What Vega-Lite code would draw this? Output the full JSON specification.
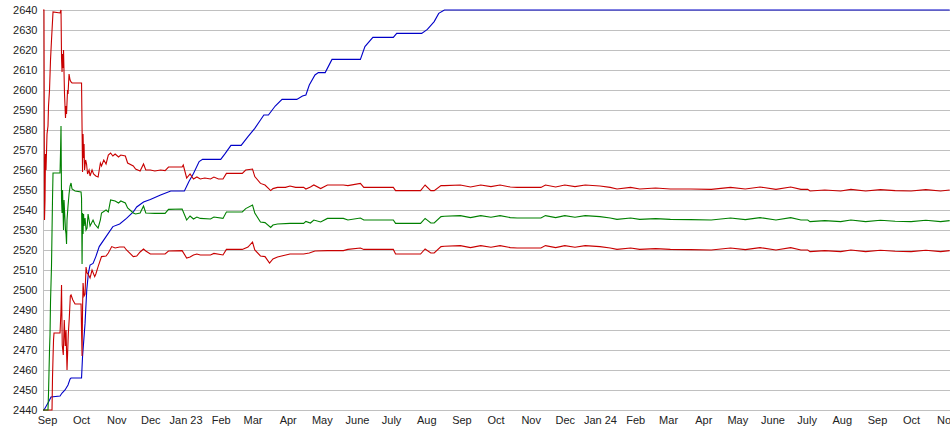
{
"$schema": "https://vega.github.io/schema/vega-lite/v6.json",
"width": 907, "height": 400,
"autosize": {"type": "none"},
"padding": {"left": 43, "top": 10, "right": 0, "bottom": 25},
"background": "white",
"config": {"view": {"stroke": null}, "font": "Liberation Sans"},
"data": {"values": [
{"t":"2022-08-28T12:00:00Z","s":"cum","v":2440},
{"t":"2022-08-29T08:00:00Z","s":"cum","v":2440},
{"t":"2022-09-02T08:00:00Z","s":"cum","v":2444},
{"t":"2022-09-04T13:00:00Z","s":"cum","v":2446.5},
{"t":"2022-09-12T11:00:00Z","s":"cum","v":2447},
{"t":"2022-09-14T06:00:00Z","s":"cum","v":2448.5},
{"t":"2022-09-16T21:00:00Z","s":"cum","v":2450},
{"t":"2022-09-19T12:00:00Z","s":"cum","v":2452.5},
{"t":"2022-09-21T07:00:00Z","s":"cum","v":2455.5},
{"t":"2022-09-22T04:00:00Z","s":"cum","v":2456},
{"t":"2022-10-01T10:00:00Z","s":"cum","v":2456},
{"t":"2022-10-02T07:00:00Z","s":"cum","v":2466.7},
{"t":"2022-10-04T12:00:00Z","s":"cum","v":2483.3},
{"t":"2022-10-06T00:00:00Z","s":"cum","v":2500},
{"t":"2022-10-07T10:00:00Z","s":"cum","v":2508.3},
{"t":"2022-10-08T22:00:00Z","s":"cum","v":2512.5},
{"t":"2022-10-11T13:00:00Z","s":"cum","v":2513.3},
{"t":"2022-10-14","s":"cum","v":2516.7},
{"t":"2022-10-17","s":"cum","v":2521.7},
{"t":"2022-10-23","s":"cum","v":2526.7},
{"t":"2022-10-29","s":"cum","v":2531.7},
{"t":"2022-11-04","s":"cum","v":2533},
{"t":"2022-11-10","s":"cum","v":2535.8},
{"t":"2022-11-16","s":"cum","v":2539},
{"t":"2022-11-19","s":"cum","v":2541.5},
{"t":"2022-11-25","s":"cum","v":2544},
{"t":"2022-12-01","s":"cum","v":2545.3},
{"t":"2022-12-10","s":"cum","v":2547.5},
{"t":"2022-12-19","s":"cum","v":2549.5},
{"t":"2022-12-31","s":"cum","v":2549.5},
{"t":"2023-01-04","s":"cum","v":2554.2},
{"t":"2023-01-08","s":"cum","v":2558.3},
{"t":"2023-01-13","s":"cum","v":2564.2},
{"t":"2023-01-16","s":"cum","v":2565.3},
{"t":"2023-02-01","s":"cum","v":2565.3},
{"t":"2023-02-05","s":"cum","v":2568.3},
{"t":"2023-02-10","s":"cum","v":2572.3},
{"t":"2023-02-19","s":"cum","v":2572.3},
{"t":"2023-02-25","s":"cum","v":2576.7},
{"t":"2023-03-03","s":"cum","v":2580.8},
{"t":"2023-03-08","s":"cum","v":2585},
{"t":"2023-03-11","s":"cum","v":2587.5},
{"t":"2023-03-15","s":"cum","v":2587.5},
{"t":"2023-03-21","s":"cum","v":2592},
{"t":"2023-03-27","s":"cum","v":2595.3},
{"t":"2023-04-09","s":"cum","v":2595.3},
{"t":"2023-04-14","s":"cum","v":2597},
{"t":"2023-04-17","s":"cum","v":2597.5},
{"t":"2023-04-20","s":"cum","v":2602.5},
{"t":"2023-04-25","s":"cum","v":2607.5},
{"t":"2023-04-28","s":"cum","v":2608.7},
{"t":"2023-05-04","s":"cum","v":2608.7},
{"t":"2023-05-10","s":"cum","v":2615.3},
{"t":"2023-06-04","s":"cum","v":2615.3},
{"t":"2023-06-08","s":"cum","v":2621.7},
{"t":"2023-06-15","s":"cum","v":2626.3},
{"t":"2023-07-03","s":"cum","v":2626.3},
{"t":"2023-07-06","s":"cum","v":2628.3},
{"t":"2023-07-28","s":"cum","v":2628.3},
{"t":"2023-08-02","s":"cum","v":2630.3},
{"t":"2023-08-08","s":"cum","v":2634.2},
{"t":"2023-08-12","s":"cum","v":2638.3},
{"t":"2023-08-17","s":"cum","v":2640},
{"t":"2024-11-04","s":"cum","v":2640},

{"t":"2022-08-28T12:00:00Z","s":"lo","v":2440},
{"t":"2022-09-05T10:00:00Z","s":"lo","v":2440},
{"t":"2022-09-05T20:00:00Z","s":"lo","v":2456},
{"t":"2022-09-06T07:00:00Z","s":"lo","v":2466},
{"t":"2022-09-06T18:00:00Z","s":"lo","v":2475},
{"t":"2022-09-07T04:00:00Z","s":"lo","v":2478.5},
{"t":"2022-09-12T11:00:00Z","s":"lo","v":2478.5},
{"t":"2022-09-13T08:00:00Z","s":"lo","v":2490},
{"t":"2022-09-13T19:00:00Z","s":"lo","v":2502.5},
{"t":"2022-09-14T10:00:00Z","s":"lo","v":2472.5},
{"t":"2022-09-15T08:00:00Z","s":"lo","v":2467.5},
{"t":"2022-09-16T05:00:00Z","s":"lo","v":2485},
{"t":"2022-09-17T02:00:00Z","s":"lo","v":2472},
{"t":"2022-09-17T18:00:00Z","s":"lo","v":2480},
{"t":"2022-09-18T15:00:00Z","s":"lo","v":2460},
{"t":"2022-09-19T18:00:00Z","s":"lo","v":2478},
{"t":"2022-09-20T15:00:00Z","s":"lo","v":2486},
{"t":"2022-09-21T13:00:00Z","s":"lo","v":2497},
{"t":"2022-09-22T04:00:00Z","s":"lo","v":2497.5},
{"t":"2022-09-23T18:00:00Z","s":"lo","v":2495},
{"t":"2022-09-25T17:00:00Z","s":"lo","v":2493},
{"t":"2022-10-01T00:00:00Z","s":"lo","v":2493},
{"t":"2022-10-01T10:00:00Z","s":"lo","v":2480},
{"t":"2022-10-01T21:00:00Z","s":"lo","v":2467},
{"t":"2022-10-02T07:00:00Z","s":"lo","v":2490},
{"t":"2022-10-02T18:00:00Z","s":"lo","v":2503.5},
{"t":"2022-10-03T15:00:00Z","s":"lo","v":2497},
{"t":"2022-10-04T12:00:00Z","s":"lo","v":2498},
{"t":"2022-10-05T09:00:00Z","s":"lo","v":2511.5},
{"t":"2022-10-06T06:00:00Z","s":"lo","v":2508.5},
{"t":"2022-10-07T04:00:00Z","s":"lo","v":2508},
{"t":"2022-10-08T22:00:00Z","s":"lo","v":2506},
{"t":"2022-10-10T16:00:00Z","s":"lo","v":2510},
{"t":"2022-10-13","s":"lo","v":2506.7},
{"t":"2022-10-14","s":"lo","v":2508},
{"t":"2022-10-16","s":"lo","v":2511.7},
{"t":"2022-10-19","s":"lo","v":2516.7},
{"t":"2022-10-23","s":"lo","v":2517},
{"t":"2022-10-25","s":"lo","v":2518.5},
{"t":"2022-10-28","s":"lo","v":2521.7},
{"t":"2022-10-31","s":"lo","v":2521},
{"t":"2022-11-04","s":"lo","v":2521.5},
{"t":"2022-11-08","s":"lo","v":2521.5},
{"t":"2022-11-10","s":"lo","v":2520},
{"t":"2022-11-16","s":"lo","v":2516.7},
{"t":"2022-11-19","s":"lo","v":2517},
{"t":"2022-11-22","s":"lo","v":2519},
{"t":"2022-11-25","s":"lo","v":2520.5},
{"t":"2022-11-27","s":"lo","v":2519.5},
{"t":"2022-12-01","s":"lo","v":2518},
{"t":"2022-12-14","s":"lo","v":2518},
{"t":"2022-12-17","s":"lo","v":2519.5},
{"t":"2022-12-29","s":"lo","v":2519.7},
{"t":"2023-01-02","s":"lo","v":2516},
{"t":"2023-01-05","s":"lo","v":2516.5},
{"t":"2023-01-08","s":"lo","v":2517.5},
{"t":"2023-01-11","s":"lo","v":2518},
{"t":"2023-01-14","s":"lo","v":2517.5},
{"t":"2023-01-23","s":"lo","v":2517.5},
{"t":"2023-01-26","s":"lo","v":2518.3},
{"t":"2023-02-03","s":"lo","v":2517.5},
{"t":"2023-02-06","s":"lo","v":2520.3},
{"t":"2023-02-20","s":"lo","v":2520.3},
{"t":"2023-02-25","s":"lo","v":2521.5},
{"t":"2023-03-01","s":"lo","v":2524},
{"t":"2023-03-03","s":"lo","v":2520},
{"t":"2023-03-08","s":"lo","v":2517},
{"t":"2023-03-12","s":"lo","v":2516.7},
{"t":"2023-03-16","s":"lo","v":2513.5},
{"t":"2023-03-19","s":"lo","v":2515.5},
{"t":"2023-03-23","s":"lo","v":2516.5},
{"t":"2023-04-03","s":"lo","v":2518},
{"t":"2023-04-15","s":"lo","v":2518},
{"t":"2023-04-20","s":"lo","v":2518.5},
{"t":"2023-04-25","s":"lo","v":2519.5},
{"t":"2023-05-06","s":"lo","v":2519.7},
{"t":"2023-05-20","s":"lo","v":2519.7},
{"t":"2023-05-24","s":"lo","v":2520.3},
{"t":"2023-06-04","s":"lo","v":2521},
{"t":"2023-06-07","s":"lo","v":2520.3},
{"t":"2023-07-03","s":"lo","v":2520.3},
{"t":"2023-07-05","s":"lo","v":2518},
{"t":"2023-07-27","s":"lo","v":2518},
{"t":"2023-07-31","s":"lo","v":2520.5},
{"t":"2023-08-05","s":"lo","v":2518.5},
{"t":"2023-08-08","s":"lo","v":2518.5},
{"t":"2023-08-14","s":"lo","v":2521.7},
{"t":"2023-08-17","s":"lo","v":2521.9},
{"t":"2023-08-31","s":"lo","v":2522.2},
{"t":"2023-09-09","s":"lo","v":2521.2},
{"t":"2023-09-18","s":"lo","v":2522.2},
{"t":"2023-09-27","s":"lo","v":2521.4},
{"t":"2023-10-05","s":"lo","v":2522.2},
{"t":"2023-10-14","s":"lo","v":2521.2},
{"t":"2023-10-20","s":"lo","v":2521},
{"t":"2023-11-10","s":"lo","v":2521},
{"t":"2023-11-14","s":"lo","v":2522.2},
{"t":"2023-11-23","s":"lo","v":2521.2},
{"t":"2023-12-01","s":"lo","v":2522.2},
{"t":"2023-12-10","s":"lo","v":2521.4},
{"t":"2023-12-19","s":"lo","v":2522.2},
{"t":"2024-01-01","s":"lo","v":2521.7},
{"t":"2024-01-10","s":"lo","v":2521},
{"t":"2024-01-16","s":"lo","v":2520.3},
{"t":"2024-01-28","s":"lo","v":2521},
{"t":"2024-02-05","s":"lo","v":2520.3},
{"t":"2024-02-19","s":"lo","v":2520.7},
{"t":"2024-03-03","s":"lo","v":2520.3},
{"t":"2024-03-21","s":"lo","v":2520.2},
{"t":"2024-04-08","s":"lo","v":2520},
{"t":"2024-04-25","s":"lo","v":2521},
{"t":"2024-05-08","s":"lo","v":2520.2},
{"t":"2024-05-21","s":"lo","v":2521.2},
{"t":"2024-06-04","s":"lo","v":2520},
{"t":"2024-06-17","s":"lo","v":2521.2},
{"t":"2024-06-26","s":"lo","v":2520},
{"t":"2024-07-02","s":"lo","v":2520},
{"t":"2024-07-04","s":"lo","v":2519.2},
{"t":"2024-07-17","s":"lo","v":2519.7},
{"t":"2024-07-31","s":"lo","v":2519.2},
{"t":"2024-08-09","s":"lo","v":2520},
{"t":"2024-08-22","s":"lo","v":2519.2},
{"t":"2024-09-04","s":"lo","v":2519.9},
{"t":"2024-09-17","s":"lo","v":2519.4},
{"t":"2024-10-01","s":"lo","v":2519.2},
{"t":"2024-10-14","s":"lo","v":2519.9},
{"t":"2024-10-27","s":"lo","v":2519.2},
{"t":"2024-11-04","s":"lo","v":2519.7},

{"t":"2022-08-28T12:00:00Z","s":"mid","v":2440},
{"t":"2022-09-01T21:00:00Z","s":"mid","v":2440},
{"t":"2022-09-02T08:00:00Z","s":"mid","v":2448.5},
{"t":"2022-09-03T05:00:00Z","s":"mid","v":2470},
{"t":"2022-09-03T16:00:00Z","s":"mid","v":2478},
{"t":"2022-09-04T02:00:00Z","s":"mid","v":2494},
{"t":"2022-09-04T23:00:00Z","s":"mid","v":2512},
{"t":"2022-09-05T20:00:00Z","s":"mid","v":2545},
{"t":"2022-09-06T07:00:00Z","s":"mid","v":2558.5},
{"t":"2022-09-12T11:00:00Z","s":"mid","v":2558.5},
{"t":"2022-09-12T22:00:00Z","s":"mid","v":2569},
{"t":"2022-09-13T08:00:00Z","s":"mid","v":2582},
{"t":"2022-09-13T19:00:00Z","s":"mid","v":2545},
{"t":"2022-09-14T06:00:00Z","s":"mid","v":2538.5},
{"t":"2022-09-14T16:00:00Z","s":"mid","v":2550},
{"t":"2022-09-15T03:00:00Z","s":"mid","v":2540},
{"t":"2022-09-15T13:00:00Z","s":"mid","v":2530},
{"t":"2022-09-16T00:00:00Z","s":"mid","v":2545},
{"t":"2022-09-16T10:00:00Z","s":"mid","v":2540},
{"t":"2022-09-17T07:00:00Z","s":"mid","v":2530},
{"t":"2022-09-17T18:00:00Z","s":"mid","v":2528},
{"t":"2022-09-18T05:00:00Z","s":"mid","v":2523},
{"t":"2022-09-18T15:00:00Z","s":"mid","v":2535},
{"t":"2022-09-19T12:00:00Z","s":"mid","v":2542},
{"t":"2022-09-20T10:00:00Z","s":"mid","v":2548},
{"t":"2022-09-21T07:00:00Z","s":"mid","v":2552},
{"t":"2022-09-22T04:00:00Z","s":"mid","v":2553.5},
{"t":"2022-09-23T01:00:00Z","s":"mid","v":2550.5},
{"t":"2022-09-25T17:00:00Z","s":"mid","v":2549.5},
{"t":"2022-10-01T00:00:00Z","s":"mid","v":2549},
{"t":"2022-10-01T10:00:00Z","s":"mid","v":2546},
{"t":"2022-10-01T21:00:00Z","s":"mid","v":2513},
{"t":"2022-10-02T07:00:00Z","s":"mid","v":2538.5},
{"t":"2022-10-02T18:00:00Z","s":"mid","v":2528},
{"t":"2022-10-03T05:00:00Z","s":"mid","v":2538},
{"t":"2022-10-03T15:00:00Z","s":"mid","v":2532},
{"t":"2022-10-04T12:00:00Z","s":"mid","v":2536},
{"t":"2022-10-05T09:00:00Z","s":"mid","v":2530},
{"t":"2022-10-06T06:00:00Z","s":"mid","v":2531},
{"t":"2022-10-07T04:00:00Z","s":"mid","v":2538},
{"t":"2022-10-08T22:00:00Z","s":"mid","v":2532},
{"t":"2022-10-11T13:00:00Z","s":"mid","v":2535},
{"t":"2022-10-13","s":"mid","v":2533},
{"t":"2022-10-16","s":"mid","v":2531},
{"t":"2022-10-18","s":"mid","v":2535},
{"t":"2022-10-19","s":"mid","v":2538.5},
{"t":"2022-10-23","s":"mid","v":2540},
{"t":"2022-10-25","s":"mid","v":2539},
{"t":"2022-10-27","s":"mid","v":2545},
{"t":"2022-10-31","s":"mid","v":2544.5},
{"t":"2022-11-03","s":"mid","v":2543.5},
{"t":"2022-11-05","s":"mid","v":2544.5},
{"t":"2022-11-09","s":"mid","v":2543.5},
{"t":"2022-11-11","s":"mid","v":2541},
{"t":"2022-11-16","s":"mid","v":2538.5},
{"t":"2022-11-18","s":"mid","v":2538},
{"t":"2022-11-22","s":"mid","v":2538.5},
{"t":"2022-11-25","s":"mid","v":2542},
{"t":"2022-11-27","s":"mid","v":2538.5},
{"t":"2022-12-05","s":"mid","v":2538.3},
{"t":"2022-12-14","s":"mid","v":2538.3},
{"t":"2022-12-17","s":"mid","v":2540.3},
{"t":"2022-12-29","s":"mid","v":2540.5},
{"t":"2023-01-02","s":"mid","v":2535},
{"t":"2023-01-05","s":"mid","v":2537},
{"t":"2023-01-08","s":"mid","v":2535.5},
{"t":"2023-01-11","s":"mid","v":2536.5},
{"t":"2023-01-14","s":"mid","v":2535.8},
{"t":"2023-01-23","s":"mid","v":2535.5},
{"t":"2023-01-26","s":"mid","v":2536.5},
{"t":"2023-02-03","s":"mid","v":2535.8},
{"t":"2023-02-06","s":"mid","v":2539},
{"t":"2023-02-20","s":"mid","v":2539},
{"t":"2023-02-23","s":"mid","v":2540.7},
{"t":"2023-03-01","s":"mid","v":2542.5},
{"t":"2023-03-03","s":"mid","v":2538.5},
{"t":"2023-03-08","s":"mid","v":2534},
{"t":"2023-03-12","s":"mid","v":2533.7},
{"t":"2023-03-17","s":"mid","v":2531.3},
{"t":"2023-03-19","s":"mid","v":2532.5},
{"t":"2023-03-23","s":"mid","v":2533},
{"t":"2023-04-03","s":"mid","v":2533.3},
{"t":"2023-04-15","s":"mid","v":2533.3},
{"t":"2023-04-17","s":"mid","v":2534.3},
{"t":"2023-04-21","s":"mid","v":2533.5},
{"t":"2023-04-24","s":"mid","v":2535},
{"t":"2023-04-30","s":"mid","v":2534},
{"t":"2023-05-06","s":"mid","v":2535.8},
{"t":"2023-05-20","s":"mid","v":2535.8},
{"t":"2023-05-24","s":"mid","v":2535},
{"t":"2023-06-04","s":"mid","v":2536},
{"t":"2023-06-07","s":"mid","v":2535},
{"t":"2023-07-03","s":"mid","v":2535},
{"t":"2023-07-05","s":"mid","v":2533.3},
{"t":"2023-07-27","s":"mid","v":2533.3},
{"t":"2023-07-31","s":"mid","v":2535.8},
{"t":"2023-08-05","s":"mid","v":2533.5},
{"t":"2023-08-08","s":"mid","v":2533.5},
{"t":"2023-08-14","s":"mid","v":2536.7},
{"t":"2023-08-17","s":"mid","v":2536.9},
{"t":"2023-08-31","s":"mid","v":2537.2},
{"t":"2023-09-09","s":"mid","v":2536.2},
{"t":"2023-09-18","s":"mid","v":2537.2},
{"t":"2023-09-27","s":"mid","v":2536.4},
{"t":"2023-10-05","s":"mid","v":2537.2},
{"t":"2023-10-14","s":"mid","v":2536.2},
{"t":"2023-10-20","s":"mid","v":2536},
{"t":"2023-11-10","s":"mid","v":2536},
{"t":"2023-11-14","s":"mid","v":2537.2},
{"t":"2023-11-23","s":"mid","v":2536.2},
{"t":"2023-12-01","s":"mid","v":2537.2},
{"t":"2023-12-10","s":"mid","v":2536.4},
{"t":"2023-12-19","s":"mid","v":2537.2},
{"t":"2024-01-01","s":"mid","v":2536.7},
{"t":"2024-01-10","s":"mid","v":2536},
{"t":"2024-01-16","s":"mid","v":2535.3},
{"t":"2024-01-28","s":"mid","v":2536},
{"t":"2024-02-05","s":"mid","v":2535.3},
{"t":"2024-02-19","s":"mid","v":2535.7},
{"t":"2024-03-03","s":"mid","v":2535.3},
{"t":"2024-03-21","s":"mid","v":2535.2},
{"t":"2024-04-08","s":"mid","v":2535},
{"t":"2024-04-25","s":"mid","v":2536},
{"t":"2024-05-08","s":"mid","v":2535.2},
{"t":"2024-05-21","s":"mid","v":2536.2},
{"t":"2024-06-04","s":"mid","v":2535},
{"t":"2024-06-17","s":"mid","v":2536.2},
{"t":"2024-06-26","s":"mid","v":2535},
{"t":"2024-07-02","s":"mid","v":2535},
{"t":"2024-07-04","s":"mid","v":2534.2},
{"t":"2024-07-17","s":"mid","v":2534.7},
{"t":"2024-07-31","s":"mid","v":2534.2},
{"t":"2024-08-09","s":"mid","v":2535},
{"t":"2024-08-22","s":"mid","v":2534.2},
{"t":"2024-09-04","s":"mid","v":2534.9},
{"t":"2024-09-17","s":"mid","v":2534.4},
{"t":"2024-10-01","s":"mid","v":2534.2},
{"t":"2024-10-14","s":"mid","v":2534.9},
{"t":"2024-10-27","s":"mid","v":2534.2},
{"t":"2024-11-04","s":"mid","v":2534.7},

{"t":"2022-08-28T12:00:00Z","s":"up","v":2640},
{"t":"2022-08-29T08:00:00Z","s":"up","v":2640},
{"t":"2022-08-29T19:00:00Z","s":"up","v":2535},
{"t":"2022-08-30T06:00:00Z","s":"up","v":2545},
{"t":"2022-08-30T16:00:00Z","s":"up","v":2568},
{"t":"2022-08-31T03:00:00Z","s":"up","v":2560},
{"t":"2022-09-01T00:00:00Z","s":"up","v":2578},
{"t":"2022-09-01T21:00:00Z","s":"up","v":2582},
{"t":"2022-09-02T08:00:00Z","s":"up","v":2592},
{"t":"2022-09-03T05:00:00Z","s":"up","v":2600},
{"t":"2022-09-04T02:00:00Z","s":"up","v":2615},
{"t":"2022-09-04T23:00:00Z","s":"up","v":2625},
{"t":"2022-09-06T07:00:00Z","s":"up","v":2639},
{"t":"2022-09-12T11:00:00Z","s":"up","v":2638.5},
{"t":"2022-09-13T08:00:00Z","s":"up","v":2640},
{"t":"2022-09-13T19:00:00Z","s":"up","v":2616},
{"t":"2022-09-14T06:00:00Z","s":"up","v":2609},
{"t":"2022-09-14T16:00:00Z","s":"up","v":2618},
{"t":"2022-09-15T03:00:00Z","s":"up","v":2611},
{"t":"2022-09-15T13:00:00Z","s":"up","v":2620},
{"t":"2022-09-16T10:00:00Z","s":"up","v":2598},
{"t":"2022-09-17T07:00:00Z","s":"up","v":2586},
{"t":"2022-09-17T18:00:00Z","s":"up","v":2592},
{"t":"2022-09-18T05:00:00Z","s":"up","v":2588},
{"t":"2022-09-19T02:00:00Z","s":"up","v":2600},
{"t":"2022-09-19T12:00:00Z","s":"up","v":2598},
{"t":"2022-09-20T10:00:00Z","s":"up","v":2608},
{"t":"2022-09-21T07:00:00Z","s":"up","v":2605},
{"t":"2022-09-22T04:00:00Z","s":"up","v":2604},
{"t":"2022-09-23T01:00:00Z","s":"up","v":2603.5},
{"t":"2022-10-01T10:00:00Z","s":"up","v":2603.5},
{"t":"2022-10-01T21:00:00Z","s":"up","v":2581},
{"t":"2022-10-02T07:00:00Z","s":"up","v":2559},
{"t":"2022-10-02T18:00:00Z","s":"up","v":2578},
{"t":"2022-10-03T05:00:00Z","s":"up","v":2566},
{"t":"2022-10-03T15:00:00Z","s":"up","v":2573},
{"t":"2022-10-04T02:00:00Z","s":"up","v":2560},
{"t":"2022-10-05T00:00:00Z","s":"up","v":2565},
{"t":"2022-10-05T20:00:00Z","s":"up","v":2563},
{"t":"2022-10-06T17:00:00Z","s":"up","v":2558},
{"t":"2022-10-08T01:00:00Z","s":"up","v":2560},
{"t":"2022-10-08T22:00:00Z","s":"up","v":2557},
{"t":"2022-10-10T16:00:00Z","s":"up","v":2560},
{"t":"2022-10-12","s":"up","v":2558},
{"t":"2022-10-14","s":"up","v":2557},
{"t":"2022-10-16","s":"up","v":2556.5},
{"t":"2022-10-18","s":"up","v":2563.5},
{"t":"2022-10-19","s":"up","v":2562},
{"t":"2022-10-21","s":"up","v":2565},
{"t":"2022-10-23","s":"up","v":2563},
{"t":"2022-10-25","s":"up","v":2567.5},
{"t":"2022-10-27","s":"up","v":2568.5},
{"t":"2022-10-29","s":"up","v":2567},
{"t":"2022-10-31","s":"up","v":2568},
{"t":"2022-11-03","s":"up","v":2566.5},
{"t":"2022-11-05","s":"up","v":2567.5},
{"t":"2022-11-09","s":"up","v":2567},
{"t":"2022-11-11","s":"up","v":2563.5},
{"t":"2022-11-16","s":"up","v":2562},
{"t":"2022-11-18","s":"up","v":2560.5},
{"t":"2022-11-22","s":"up","v":2559.5},
{"t":"2022-11-25","s":"up","v":2563},
{"t":"2022-11-27","s":"up","v":2560},
{"t":"2022-12-01","s":"up","v":2560},
{"t":"2022-12-05","s":"up","v":2559.5},
{"t":"2022-12-10","s":"up","v":2560},
{"t":"2022-12-14","s":"up","v":2559.7},
{"t":"2022-12-17","s":"up","v":2561.5},
{"t":"2022-12-29","s":"up","v":2561.5},
{"t":"2022-12-30","s":"up","v":2562.5},
{"t":"2023-01-02","s":"up","v":2556},
{"t":"2023-01-05","s":"up","v":2558},
{"t":"2023-01-08","s":"up","v":2555.5},
{"t":"2023-01-11","s":"up","v":2556.5},
{"t":"2023-01-14","s":"up","v":2555.5},
{"t":"2023-01-18","s":"up","v":2556},
{"t":"2023-01-23","s":"up","v":2555.5},
{"t":"2023-01-26","s":"up","v":2556.5},
{"t":"2023-01-30","s":"up","v":2555.5},
{"t":"2023-02-03","s":"up","v":2555.5},
{"t":"2023-02-06","s":"up","v":2558.3},
{"t":"2023-02-20","s":"up","v":2558.3},
{"t":"2023-02-23","s":"up","v":2560},
{"t":"2023-03-01","s":"up","v":2560.5},
{"t":"2023-03-03","s":"up","v":2556.7},
{"t":"2023-03-08","s":"up","v":2553.3},
{"t":"2023-03-12","s":"up","v":2552.5},
{"t":"2023-03-17","s":"up","v":2549.7},
{"t":"2023-03-19","s":"up","v":2550.7},
{"t":"2023-03-23","s":"up","v":2551.3},
{"t":"2023-03-30","s":"up","v":2551.3},
{"t":"2023-04-03","s":"up","v":2552},
{"t":"2023-04-08","s":"up","v":2551.3},
{"t":"2023-04-15","s":"up","v":2551.3},
{"t":"2023-04-17","s":"up","v":2550.5},
{"t":"2023-04-21","s":"up","v":2551.5},
{"t":"2023-04-24","s":"up","v":2552.5},
{"t":"2023-04-30","s":"up","v":2550.7},
{"t":"2023-05-06","s":"up","v":2552.5},
{"t":"2023-05-20","s":"up","v":2552.5},
{"t":"2023-05-24","s":"up","v":2552.2},
{"t":"2023-06-04","s":"up","v":2553.3},
{"t":"2023-06-07","s":"up","v":2551.3},
{"t":"2023-07-03","s":"up","v":2551.3},
{"t":"2023-07-05","s":"up","v":2549.7},
{"t":"2023-07-27","s":"up","v":2549.7},
{"t":"2023-07-31","s":"up","v":2552.5},
{"t":"2023-08-05","s":"up","v":2549.7},
{"t":"2023-08-08","s":"up","v":2549.7},
{"t":"2023-08-14","s":"up","v":2552.2},
{"t":"2023-08-17","s":"up","v":2552.2},
{"t":"2023-08-31","s":"up","v":2552.5},
{"t":"2023-09-09","s":"up","v":2551.5},
{"t":"2023-09-18","s":"up","v":2552.5},
{"t":"2023-09-27","s":"up","v":2551.7},
{"t":"2023-10-05","s":"up","v":2552.5},
{"t":"2023-10-14","s":"up","v":2551.5},
{"t":"2023-10-20","s":"up","v":2551.3},
{"t":"2023-11-10","s":"up","v":2551.3},
{"t":"2023-11-14","s":"up","v":2552.5},
{"t":"2023-11-23","s":"up","v":2551.5},
{"t":"2023-12-01","s":"up","v":2552.5},
{"t":"2023-12-10","s":"up","v":2551.7},
{"t":"2023-12-19","s":"up","v":2552.5},
{"t":"2024-01-01","s":"up","v":2552},
{"t":"2024-01-10","s":"up","v":2551.3},
{"t":"2024-01-16","s":"up","v":2550.5},
{"t":"2024-01-28","s":"up","v":2551.3},
{"t":"2024-02-05","s":"up","v":2550.5},
{"t":"2024-02-19","s":"up","v":2551},
{"t":"2024-03-03","s":"up","v":2550.5},
{"t":"2024-03-21","s":"up","v":2550.5},
{"t":"2024-04-08","s":"up","v":2550.3},
{"t":"2024-04-25","s":"up","v":2551.3},
{"t":"2024-05-08","s":"up","v":2550.5},
{"t":"2024-05-21","s":"up","v":2551.5},
{"t":"2024-06-04","s":"up","v":2550.3},
{"t":"2024-06-17","s":"up","v":2551.5},
{"t":"2024-06-26","s":"up","v":2550.3},
{"t":"2024-07-02","s":"up","v":2550.3},
{"t":"2024-07-04","s":"up","v":2549.5},
{"t":"2024-07-17","s":"up","v":2550},
{"t":"2024-07-31","s":"up","v":2549.5},
{"t":"2024-08-09","s":"up","v":2550.3},
{"t":"2024-08-22","s":"up","v":2549.5},
{"t":"2024-09-04","s":"up","v":2550.2},
{"t":"2024-09-17","s":"up","v":2549.7},
{"t":"2024-10-01","s":"up","v":2549.5},
{"t":"2024-10-14","s":"up","v":2550.2},
{"t":"2024-10-27","s":"up","v":2549.5},
{"t":"2024-11-04","s":"up","v":2550}
]},
"mark": {"type": "line", "strokeWidth": 1.1},
"encoding": {
  "x": {"field": "t", "type": "temporal",
    "scale": {"type": "utc", "domain": [{"year": 2022, "month": 8, "date": 28, "hours": 11, "minutes": 17, "utc": true}, {"year": 2024, "month": 11, "date": 4, "hours": 7, "utc": true}]},
    "axis": {"title": null, "grid": false, "ticks": false, "domain": false, "labelFontSize": 11, "labelColor": "#222", "labelPadding": 4, "labelFlush": false, "labelOverlap": false,
      "tickCount": {"interval": "month", "step": 1},
      "labelExpr": "utcmonth(datum.value) == 0 ? 'Jan ' + utcFormat(datum.value, '%y') : ['Jan','Feb','Mar','Apr','May','June','July','Aug','Sep','Oct','Nov','Dec'][utcmonth(datum.value)]"}},
  "y": {"field": "v", "type": "quantitative",
    "scale": {"domain": [2440, 2640], "nice": false, "zero": false},
    "axis": {"title": null, "format": "d", "values": [2440,2450,2460,2470,2480,2490,2500,2510,2520,2530,2540,2550,2560,2570,2580,2590,2600,2610,2620,2630,2640],
      "grid": true, "gridColor": "#c0c0c0", "gridOpacity": 1, "ticks": false, "domain": true, "domainColor": "#c0c0c0", "labelFontSize": 11, "labelColor": "#222", "labelPadding": 6}},
  "color": {"field": "s", "type": "nominal",
    "scale": {"domain": ["cum", "lo", "mid", "up"], "range": ["#0000c8", "#c80000", "#008000", "#c80000"]},
    "legend": null}
}
}
